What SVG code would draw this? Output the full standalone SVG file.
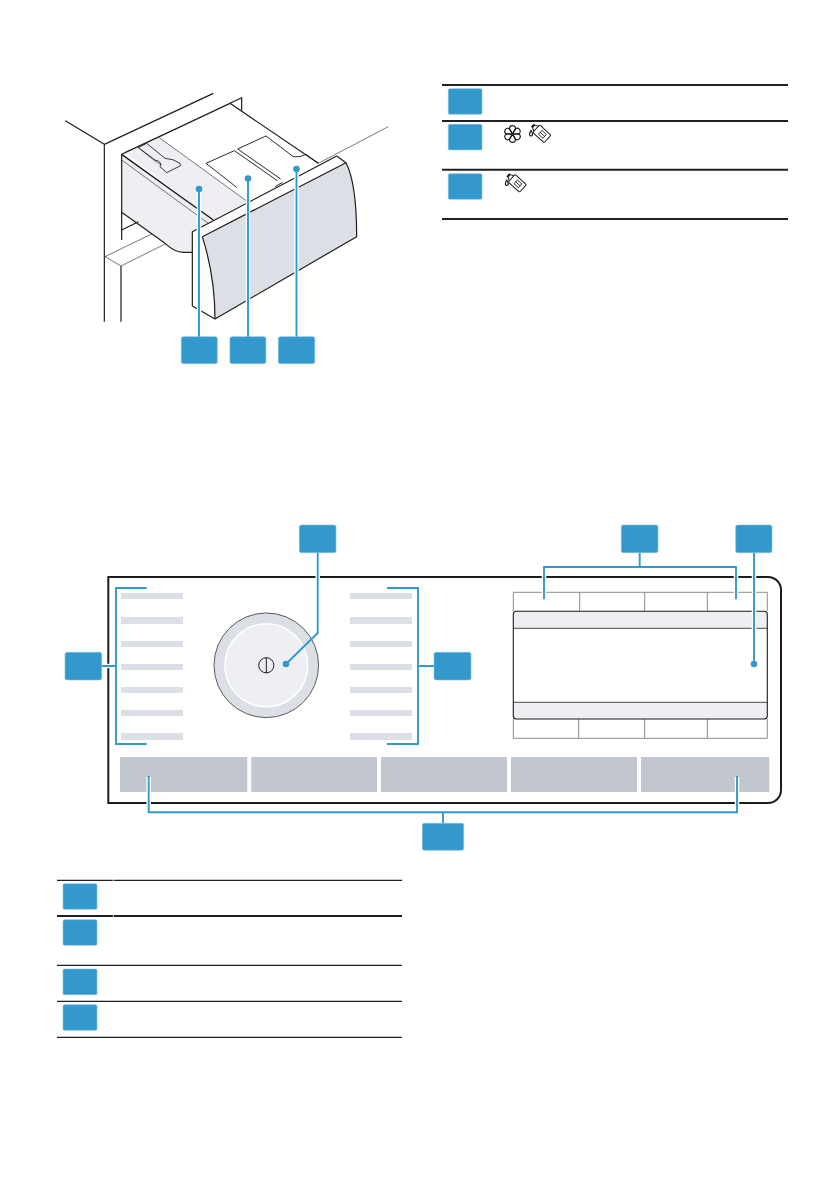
<svg xmlns="http://www.w3.org/2000/svg" width="840" height="1192" viewBox="0 0 840 1192">
<style>
.tag{fill:#3399cc;stroke:#7fc0e0;stroke-width:.6}
.lead{fill:none;stroke:#3399cc;stroke-width:1.9}
.halo{fill:none;stroke:#fff;stroke-width:4.5}
.dot{fill:#3399cc}
.rule{stroke:#231f20;fill:none}
.bar{fill:#dcdfe6}
.btn{fill:#c2c6ce}
.ink{fill:none;stroke:#1d1d1b;stroke-width:3.6;stroke-linejoin:round}
.thin{fill:none;stroke:#1d1d1b;stroke-width:1.8}
.cell{fill:none;stroke:#8c8c8c;stroke-width:1}
.ico{fill:none;stroke:#1d1d1b;stroke-width:1.2;stroke-linejoin:round}
</style>
<defs>
<path id="petal" class="ico" d="M0 0L-3.100 -5.300A3 3 0 1 1 3.100 -5.300Z"/>
<g id="bottle">
<rect class="ico" x="-8.500" y="-6" width="18" height="12" rx="1.500"/>
<path class="ico" d="M-8.500 -4L-12.500 -2V2L-8.500 4"/>
<path d="M-14.500 -2.500H-12.500V2.500H-14.500Z" fill="#1d1d1b"/>
<path d="M-2 -3H5V3H-2Z" fill="none" stroke="#1d1d1b" stroke-width="1"/>
<path d="M-2 0H5" stroke="#1d1d1b" stroke-width="1"/>
</g>
</defs>
<rect width="840" height="1192" fill="#fff"/>
<g id="drawer-illustration" transform="translate(40,80) scale(.33333)">
<path class="ink" d="M76 122L193 193L520 40M193 193V725M570 70L605 53V92"/>
<path d="M245 223V397L335 460L375 490Q405 517 430 517H457V455L520 420L245 223Z" fill="#eeeff3"/>
<path d="M255 218L358 173L620 363L520 420Z" fill="#eeeff3"/>
<path class="ink" d="M245 480V223L255 218L358 170L570 70L835 250"/>
<path class="ink" style="stroke-width:4.200" d="M245 223L520 420"/>
<path class="thin" d="M245 240L505 430M358 173L620 363"/>
<path class="ink" d="M245 397L375 490Q405 517 430 517H457M245 450L295 425"/>
<path class="thin" d="M195 530L335 462M195 530L243 558L375 492"/>
<path class="ink" d="M243 558V725"/>
<path class="ink" style="stroke-width:2.600" d="M295 203L320 190L375 235Q400 236 420 250L422 257L380 278L360 260Q368 245 345 240Z"/>
<path class="thin" d="M295 203L345 243L365 255"/>
<path class="ink" style="stroke-width:2.800" d="M590 322L498 250L583 212L712 302M593 207L678 168L760 230H780L798 223L835 250M593 207L722 297M705 320L728 307"/>
<path class="thin" d="M835 250L1045 140"/>
<path d="M457 455L890 228L918 248L487 470L525 717L457 678Z" fill="#fff"/>
<path d="M487 470L918 248Q950 310 950 470L525 717Q525 590 487 470Z" fill="#dcdfe6"/>
<path class="ink" d="M457 678V455L835 257L890 228L918 248Q950 310 950 470L525 717L457 678M487 470L918 248M487 470Q525 590 525 717"/>
</g>
<g id="connectors">
<path class="halo" d="M199 189V336M248 178V336M296.500 169V336"/>
<path class="lead" d="M199 189V337M248 178V337M296.500 169V337"/>
<circle class="dot" cx="199" cy="189" r="3.300"/>
<circle class="dot" cx="248" cy="178.500" r="3.300"/>
<circle class="dot" cx="296.500" cy="169" r="3.300"/>
</g>
<g id="legend-top">
<path class="rule" stroke-width="2" d="M442 85H788M442 121H788M442 169.700H788M442 219H788"/>
<g id="icon-flower" transform="translate(512.500,134)">
<use href="#petal"/><use href="#petal" transform="rotate(60)"/><use href="#petal" transform="rotate(120)"/><use href="#petal" transform="rotate(180)"/><use href="#petal" transform="rotate(240)"/><use href="#petal" transform="rotate(300)"/>
</g>
<g id="icon-bottle-1"><use href="#bottle" transform="translate(541.500,133.500) rotate(42) scale(.85)"/><path class="ico" d="M531 130.500Q528.800 134 530 135.500Q531.500 136.500 532.500 135Q532.800 133 531 130.500Z"/></g>
<g id="icon-bottle-2"><use href="#bottle" transform="translate(517,183) rotate(42) scale(.85)"/><path class="ico" d="M506.800 180Q504.600 183.500 505.800 185Q507.300 186 508.300 184.500Q508.600 182.500 506.800 180Z"/></g>
</g>
<g id="tags-top">
<rect class="tag" x="181.300" y="336.700" width="36" height="27" rx="2"/>
<rect class="tag" x="229.900" y="336.700" width="36" height="27" rx="2"/>
<rect class="tag" x="278.300" y="336.700" width="36.500" height="27" rx="2"/>
<rect class="tag" x="448.300" y="88.700" width="33.700" height="25.600" rx="1.500"/>
<rect class="tag" x="448.300" y="124.300" width="33.700" height="25.600" rx="1.500"/>
<rect class="tag" x="448.300" y="173.700" width="33.700" height="25.600" rx="1.500"/>
</g>
<g id="panel">
<path d="M108.300 577H768A13 13 0 0 1 781 590V790A13 13 0 0 1 768 803H108.300Z" fill="#fff" stroke="#1d1d1b" stroke-width="2"/>
</g>
<g id="program-list-left">
<rect class="bar" x="121" y="593" width="62" height="6"/><rect class="bar" x="121" y="617" width="62" height="7"/><rect class="bar" x="121" y="641" width="62" height="6"/><rect class="bar" x="121" y="664" width="62" height="6"/><rect class="bar" x="121" y="687" width="62" height="6"/><rect class="bar" x="121" y="710" width="62" height="6"/><rect class="bar" x="121" y="733" width="62" height="7"/>
</g>
<g id="program-list-right">
<rect class="bar" x="350" y="593" width="62" height="6"/><rect class="bar" x="350" y="617" width="62" height="7"/><rect class="bar" x="350" y="641" width="62" height="6"/><rect class="bar" x="350" y="664" width="62" height="6"/><rect class="bar" x="350" y="687" width="62" height="6"/><rect class="bar" x="350" y="710" width="62" height="6"/><rect class="bar" x="350" y="733" width="62" height="7"/>
</g>
<g id="knob">
<circle cx="266.300" cy="665.300" r="52.300" fill="#dcdfe6" stroke="#4a4a4a" stroke-width=".9"/>
<circle cx="266.300" cy="665.300" r="41.500" fill="#eeeff3" stroke="#fff" stroke-width="1.400"/>
<circle cx="266.300" cy="665.300" r="7.600" fill="none" stroke="#1d1d1b" stroke-width="1"/>
<path d="M266.300 657.700V672.900" stroke="#1d1d1b" stroke-width="1"/>
</g>
<g id="display">
<path class="cell" d="M513.300 611V592.300H767.300V611M579.700 592.300V611M644.700 592.300V611M707.300 592.300V611"/>
<path class="cell" d="M513.300 719V738.300H767.300V719M578.700 719V738.300M644.700 719V738.300M707.300 719V738.300"/>
<rect x="513.300" y="611.300" width="254" height="107.700" rx="3" fill="#fff"/>
<path d="M513.300 628.300V614.300a3 3 0 0 1 3-3H764.300a3 3 0 0 1 3 3V628.300Z" fill="#eeeff3"/>
<path d="M513.300 702.300V716a3 3 0 0 0 3 3H764.300a3 3 0 0 0 3-3V702.300Z" fill="#eeeff3"/>
<path d="M513.300 628.300H767.300M513.300 702.300H767.300" stroke="#4a4a4a" stroke-width="1" fill="none"/>
<rect x="513.300" y="611.300" width="254" height="107.700" rx="3" fill="none" stroke="#1d1d1b" stroke-width="1.100"/>
</g>
<g id="buttons">
<rect class="btn" x="120" y="757" width="127.300" height="35"/>
<rect class="btn" x="251.300" y="757" width="125.700" height="35"/>
<rect class="btn" x="381" y="757" width="126" height="35"/>
<rect class="btn" x="511" y="757" width="126" height="35"/>
<rect class="btn" x="641" y="757" width="128.300" height="35"/>
</g>
<g id="connectors-panel">
<path class="halo" d="M317.700 560V590M754 560V656M148.700 777V808M737 777V808M102 666H114M544 575V598M736 575V598"/>
<path class="lead" d="M146.700 588H116V744H146.700M102 666H116"/>
<path class="lead" d="M387 588H418V744H387M418 666H434"/>
<path class="lead" d="M317.700 552.700V633L286 664"/>
<path class="lead" d="M544 599.300V567H736V599.300M639.700 552.700V567"/>
<path class="lead" d="M754 552.700V664"/>
<path class="lead" d="M148.700 776V812.300H737V776M443 812.300V823.300"/>
<circle class="dot" cx="286" cy="664" r="3.300"/>
<circle class="dot" cx="754" cy="664" r="3.300"/>
</g>
<g id="tags-panel">
<rect class="tag" x="299.300" y="525" width="36.700" height="27.700" rx="2"/>
<rect class="tag" x="621.300" y="525" width="36.700" height="27.700" rx="2"/>
<rect class="tag" x="735.700" y="525" width="36.300" height="27.700" rx="2"/>
<rect class="tag" x="65" y="652.300" width="36.700" height="27.700" rx="2"/>
<rect class="tag" x="434" y="652.300" width="37" height="27.700" rx="2"/>
<rect class="tag" x="422.300" y="823.300" width="41.400" height="27" rx="2"/>
</g>
<g id="legend-bottom">
<path class="rule" stroke-width="1.300" d="M57 880.300H402M57 965.300H402M57 1001.300H402M57 1037.300H402"/>
<path class="rule" stroke-width="2" d="M57 916H402"/>
<path d="M113.300 879V1038.500" stroke="#fff" stroke-width=".8" stroke-dasharray="3 33"/>
<rect class="tag" x="63" y="883.700" width="34" height="25.600" rx="1.500"/>
<rect class="tag" x="63" y="919.700" width="34" height="25.600" rx="1.500"/>
<rect class="tag" x="63" y="969" width="34" height="25.700" rx="1.500"/>
<rect class="tag" x="63" y="1004.700" width="34" height="25.600" rx="1.500"/>
</g>
</svg>
